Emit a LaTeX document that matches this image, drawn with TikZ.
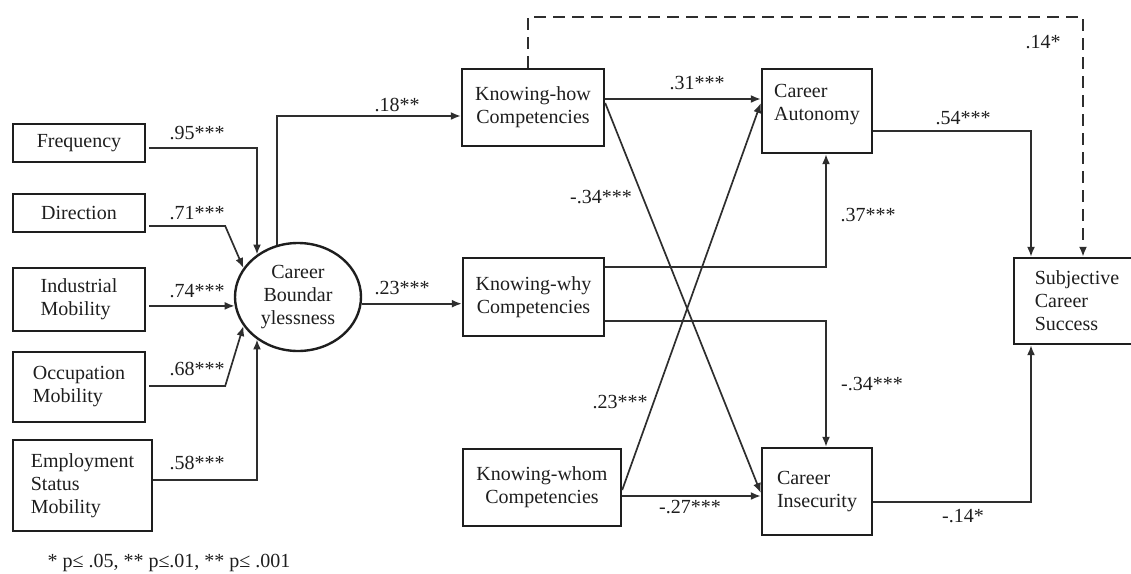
\documentclass[tikz,border=0pt]{standalone}
\usepackage{fontspec}
\setmainfont{Liberation Serif}
\usetikzlibrary{arrows.meta,shapes.geometric}
\definecolor{ink}{HTML}{1E1E1E}
\definecolor{wirec}{HTML}{2E2E2E}
\begin{document}
\begin{tikzpicture}[x=1pt,y=-1pt,
  every node/.style={font=\fontsize{20}{23}\selectfont, text=ink},
  box/.style={draw=ink, line width=2.4pt, inner sep=0pt, align=center},
  lbox/.style={box, align=left},
  wire/.style={draw=wirec, line width=1.7pt},
  arr/.style={wire, -{Latex[length=10pt,width=8pt]}},
  val/.style={inner sep=0pt},
]
\useasboundingbox (0,0) rectangle (1131,573);

% indicators of boundaryless careers
\node[box,  minimum width=132pt, minimum height=38pt] (freq) at (79,143)   {Frequency};
\node[box,  minimum width=132pt, minimum height=38pt] (dir)  at (79,213)   {Direction};
\node[lbox, minimum width=132pt, minimum height=63pt] (ind)  at (79,299.5) {Industrial\\Mobility};
\node[lbox, minimum width=132pt, minimum height=70pt] (occ)  at (79,387)   {Occupation\\Mobility};
\node[lbox, minimum width=139pt, minimum height=91pt] (emp)  at (82.5,485.5) {Employment\\Status\\Mobility};

% latent construct
\node[ellipse, draw=ink, line width=2.4pt, inner sep=0pt, align=center,
      minimum width=126pt, minimum height=108pt] (circ) at (298,297)
      {Career\\Boundar\\ylessness};

% competencies
\node[box, minimum width=142pt, minimum height=77pt] (kh)  at (533,107.5) {Knowing-how\\Competencies};
\node[box, minimum width=141pt, minimum height=78pt] (kw)  at (533.5,297) {Knowing-why\\Competencies};
\node[box, minimum width=158pt, minimum height=77pt] (kwh) at (542,487.5) {Knowing-whom\\Competencies};

% career outcomes
\node[lbox, minimum width=110pt, minimum height=84pt, text depth=17pt] (ca) at (817,111) {Career\\Autonomy};
\node[lbox, minimum width=110pt, minimum height=87pt] (ci)  at (817,491.5) {Career\\Insecurity};
\node[lbox, minimum width=126pt, minimum height=86pt] (scs) at (1077,301)  {Subjective\\Career\\Success};

% indicator paths
\draw[arr, shorten <=3pt] (freq.east |- 0,148) -| (circ.134);
\draw[arr, shorten <=3pt] (dir.east |- 0,226) -- ++(79,0) -- (circ.152);
\draw[arr, shorten <=3pt] (ind.east |- circ.188) -- (circ.188);
\draw[arr, shorten <=3pt] (occ.east |- 0,386) -- ++(79,0) -- (circ.208);
\draw[arr] (emp.east |- 0,480) -| (circ.226);

% construct to competencies
\draw[arr] (circ.112) |- (kh.west |- 0,116);
\draw[arr] (circ.354) -- (kw.west |- circ.354);

% competencies to outcomes
\draw[arr] (kh.east |- 0,99) -- (ca.west |- 0,99);
\draw[arr] (kh.east |- 0,103) -- (ci.west |- 0,493);
\draw[arr] (kwh.east |- 0,490) -- (ca.west |- 0,103);
\draw[arr] (kwh.east |- 0,496) -- (ci.west |- 0,496);
\draw[arr] (kw.east |- 0,267) -| (826,0 |- ca.south);
\draw[arr] (kw.east |- 0,321) -| (826,0 |- ci.north);

% outcomes to success
\draw[arr] (ca.east |- 0,131) -| (1031,0 |- scs.north);
\draw[arr] (ci.east |- 0,502) -| (1031,0 |- scs.south);
\draw[arr, line width=2.4pt, dash pattern=on 12pt off 7pt]
  (528,0 |- kh.north) -- (528,17) -| (1083,0 |- scs.north);

% path coefficients
\node[val] (l95) at (197,133) {.95***};
\node[val] (l71) at (197,213) {.71***};
\node[val] (l74) at (197,291) {.74***};
\node[val] (l68) at (197,369) {.68***};
\node[val] (l58) at (197,463) {.58***};
\node[val] (l18) at (397,105) {.18**};
\node[val] (l23a) at (402,288) {.23***};
\node[val] (l31) at (697,83) {.31***};
\node[val] (l34a) at (601,197) {-.34***};
\node[val] (l23b) at (620,402) {.23***};
\node[val] (l27) at (690,507) {-.27***};
\node[val] (l37) at (868,215) {.37***};
\node[val] (l34b) at (872,384) {-.34***};
\node[val] (l54) at (963,118) {.54***};
\node[val] (l14a) at (1043,42) {.14*};
\node[val] (l14b) at (963,516) {-.14*};

% significance note
\node[val] (note) at (169,563) {* p≤ .05, ** p≤.01, ** p≤ .001};
\end{tikzpicture}
\end{document}
